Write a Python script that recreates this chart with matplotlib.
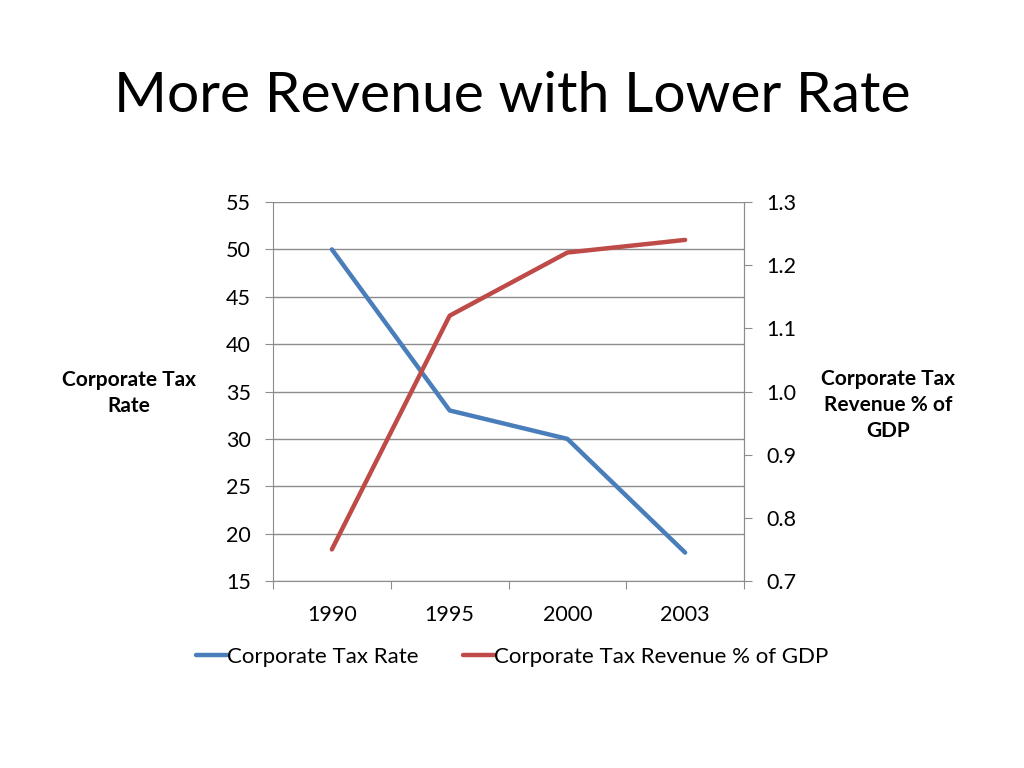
import numpy as np
import matplotlib
matplotlib.use('Agg')
from matplotlib import pyplot as plt

years = ['1990', '1995', '2000', '2003']
tax_rate = [50, 33, 30, 18]
revenue_gdp = [0.75, 1.12, 1.22, 1.24]

plt.rcParams['font.family'] = ['Lato', 'DejaVu Sans']

fig = plt.figure(figsize=(10.24, 7.68), dpi=100)
fig.text(0.5, 1 - 97/768, 'More Revenue with Lower Rate', ha='center', va='center', fontsize=41)

ax = fig.add_axes([273/1024, 1 - 581/768, (744 - 273)/1024, (581 - 202)/768])
ax2 = ax.twinx()

x = np.arange(len(years)) + 0.5
grid_c = '#8c8c8c'

l1, = ax.plot(x, tax_rate, color='#4a7ebb', lw=3.2, solid_capstyle='round', label='Corporate Tax Rate')
l2, = ax2.plot(x, revenue_gdp, color='#be4b48', lw=3.2, solid_capstyle='round', label='Corporate Tax Revenue % of GDP')

ax.set_xlim(0, len(years))
ax.set_ylim(15, 55)
ax.set_yticks(range(15, 56, 5))
ax2.set_ylim(0.7, 1.3)
ax2.set_yticks([0.7, 0.8, 0.9, 1.0, 1.1, 1.2, 1.3])
ax2.set_yticklabels(['0.7', '0.8', '0.9', '1.0', '1.1', '1.2', '1.3'])

ax.set_xticks(range(len(years) + 1))
ax.set_xticklabels([])
ax.set_xticks(x, minor=True)
ax.set_xticklabels(years, minor=True)
ax.tick_params(axis='x', which='major', length=6, color=grid_c, direction='out')
ax.tick_params(axis='x', which='minor', length=0, pad=17, labelsize=15.5)
ax.tick_params(axis='y', length=6, color=grid_c, labelsize=15.5, pad=10)
ax2.tick_params(axis='y', length=6, color=grid_c, labelsize=15.5, pad=10)

ax.grid(axis='y', color=grid_c, lw=1)
for a in (ax, ax2):
    for s in a.spines.values():
        s.set_color(grid_c)
    a.spines['top'].set_visible(False)
ax2.spines['left'].set_visible(False)
ax2.spines['bottom'].set_visible(False)

fig.text(129/1024, 1 - 393/768, 'Corporate Tax\nRate', ha='center', va='center',
         fontsize=15, fontweight='bold', linespacing=1.35)
fig.text(888/1024, 1 - 405/768, 'Corporate Tax\nRevenue % of\nGDP', ha='center', va='center',
         fontsize=15, fontweight='bold', linespacing=1.35)

fig.legend(handles=[l1, l2], loc='center', bbox_to_anchor=(512/1024, 1 - 657/768), ncol=2,
           frameon=False, fontsize=16, handlelength=1.4, handletextpad=0.0, columnspacing=2.0)

fig.savefig('out.png', dpi=100)
